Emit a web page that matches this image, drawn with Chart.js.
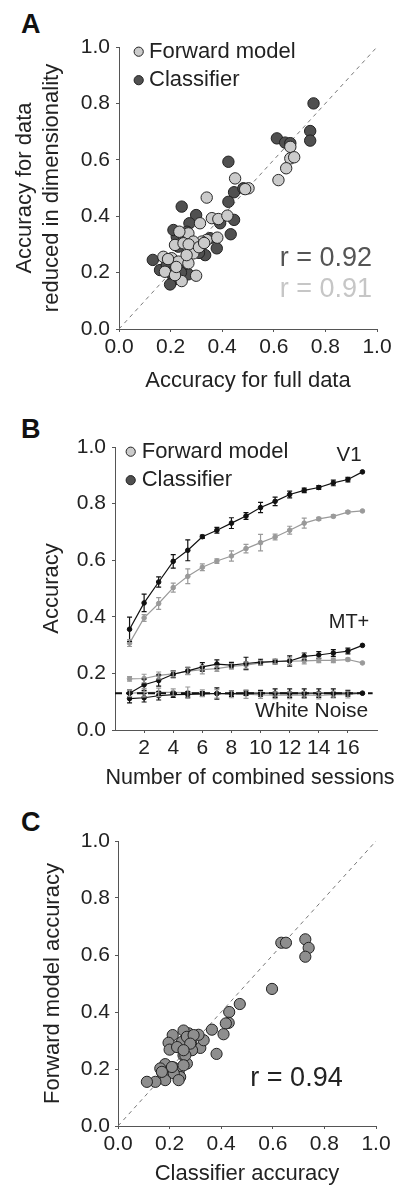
<!DOCTYPE html>
<html lang="en">
<head>
<meta charset="UTF-8">
<title>Forward model vs classifier accuracy</title>
<script src="https://cdn.jsdelivr.net/npm/chart.js"></script>
<style>
  body { margin: 0; background: #fff; }
  #wrap { position: relative; width: 399px; height: 1185px; overflow: hidden; }
  #wrap canvas { position: absolute; left: 0; }
  .letter { position: absolute; left: 21px; font: bold 27px "Liberation Sans", Arial, sans-serif; line-height: 1; color: #111; }
</style>
</head>
<body>
<div id="wrap">
  <div class="letter" style="top:11px">A</div>
  <div class="letter" style="top:416px">B</div>
  <div class="letter" style="top:809px">C</div>
  <canvas id="chartA" width="399" height="400" style="top:0"></canvas>
  <canvas id="chartB" width="399" height="395" style="top:400px"></canvas>
  <canvas id="chartC" width="399" height="392" style="top:795px"></canvas>
</div>

<script>
// ---- data ----
const accTicks = [0, 0.2, 0.4, 0.6, 0.8, 1.0];
const sessionTicks = [2, 4, 6, 8, 10, 12, 14, 16];
const identity = [0, 1];

// A: accuracy for full data (x) vs data reduced in dimensionality (y)
const fwdFull    = [0.664, 0.664, 0.679, 0.648, 0.618, 0.450, 0.502, 0.489, 0.340, 0.360, 0.385, 0.420, 0.314, 0.269, 0.234,
                    0.340, 0.381, 0.321, 0.288, 0.217, 0.250, 0.288, 0.172, 0.204, 0.230, 0.269, 0.178, 0.299, 0.243, 0.217,
                    0.270, 0.310, 0.222, 0.262, 0.190, 0.330];
const fwdReduced = [0.646, 0.605, 0.609, 0.570, 0.528, 0.534, 0.499, 0.496, 0.466, 0.393, 0.390, 0.402, 0.375, 0.339, 0.345,
                    0.316, 0.324, 0.310, 0.310, 0.298, 0.304, 0.268, 0.256, 0.251, 0.239, 0.233, 0.203, 0.189, 0.170, 0.191,
                    0.300, 0.290, 0.220, 0.262, 0.248, 0.305];
const clsFull    = [0.754, 0.741, 0.741, 0.612, 0.644, 0.664, 0.424, 0.446, 0.482, 0.424, 0.243, 0.299, 0.273, 0.392, 0.446, 0.433, 0.224,
                    0.379, 0.334, 0.230, 0.131, 0.159, 0.269, 0.211, 0.198, 0.263, 0.327, 0.276, 0.250, 0.185, 0.224, 0.353, 0.211,
                    0.250, 0.290, 0.310, 0.200, 0.240];
const clsReduced = [0.800, 0.702, 0.668, 0.676, 0.661, 0.659, 0.593, 0.485, 0.499, 0.451, 0.434, 0.404, 0.375, 0.375, 0.387, 0.336, 0.327,
                    0.286, 0.262, 0.292, 0.245, 0.209, 0.194, 0.174, 0.158, 0.345, 0.304, 0.268, 0.227, 0.227, 0.209, 0.322, 0.351,
                    0.330, 0.280, 0.270, 0.200, 0.200];

// B: accuracy vs number of combined sessions
const sessions = [1, 2, 3, 4, 5, 6, 7, 8, 9, 10, 11, 12, 13, 14, 15, 16, 17];
const v1Cls    = [0.356, 0.449, 0.523, 0.596, 0.635, 0.683, 0.706, 0.731, 0.756, 0.786, 0.808, 0.832, 0.847, 0.857, 0.873, 0.885, 0.912];
const v1ClsErr = [0.043, 0.031, 0.018, 0.024, 0.037, 0.006, 0.010, 0.019, 0.012, 0.018, 0.015, 0.012, 0.008, 0.007, 0.010, 0.008, 0];
const v1Fwd    = [0.307, 0.396, 0.447, 0.503, 0.543, 0.575, 0.597, 0.615, 0.641, 0.662, 0.682, 0.706, 0.731, 0.746, 0.755, 0.770, 0.774];
const v1FwdErr = [0.012, 0.012, 0.021, 0.016, 0.026, 0.012, 0.008, 0.018, 0.015, 0.029, 0.010, 0.014, 0.018, 0.005, 0.005, 0.005, 0];
const mtCls    = [0.130, 0.160, 0.175, 0.197, 0.209, 0.223, 0.233, 0.229, 0.235, 0.240, 0.242, 0.244, 0.260, 0.265, 0.272, 0.279, 0.299];
const mtClsErr = [0.012, 0.020, 0.020, 0.012, 0.012, 0.015, 0.015, 0.010, 0.022, 0.010, 0.008, 0.018, 0.012, 0.012, 0.012, 0.010, 0];
const mtFwd    = [0.181, 0.182, 0.193, 0.198, 0.208, 0.213, 0.217, 0.225, 0.229, 0.237, 0.242, 0.243, 0.244, 0.246, 0.246, 0.249, 0.237];
const mtFwdErr = [0.008, 0.015, 0.012, 0.010, 0.012, 0.015, 0.010, 0.010, 0.012, 0.008, 0.008, 0.012, 0.010, 0.008, 0.008, 0.005, 0];
const wnCls    = [0.111, 0.114, 0.121, 0.125, 0.126, 0.128, 0.129, 0.129, 0.130, 0.130, 0.130, 0.130, 0.130, 0.130, 0.130, 0.130, 0.130];
const wnClsErr = [0.015, 0.015, 0.015, 0.010, 0.010, 0.008, 0.020, 0.010, 0.008, 0.010, 0.015, 0.015, 0.015, 0.015, 0.015, 0.010, 0];
const wnFwd    = [0.130, 0.132, 0.133, 0.133, 0.132, 0.130, 0.128, 0.126, 0.127, 0.124, 0.123, 0.123, 0.124, 0.122, 0.125, 0.125, 0.130];
const wnFwdErr = [0.012, 0.015, 0.015, 0.012, 0.020, 0.012, 0.015, 0.012, 0.015, 0.012, 0.012, 0.012, 0.012, 0.012, 0.012, 0.012, 0];
const chance = 0.13;
const chanceSpan = [0, 17.7];

// C: classifier accuracy (x) vs forward model accuracy (y)
const clsAcc = [0.633, 0.651, 0.726, 0.739, 0.726, 0.597, 0.472, 0.431, 0.429, 0.418, 0.409, 0.364, 0.382, 0.319, 0.332, 0.312,
                0.274, 0.254, 0.283, 0.287, 0.212, 0.248, 0.196, 0.200, 0.229, 0.254, 0.267, 0.216, 0.235, 0.241, 0.183, 0.164,
                0.174, 0.183, 0.145, 0.112, 0.216, 0.267, 0.293, 0.280, 0.261, 0.254, 0.209, 0.235, 0.170, 0.254];
const fwdAcc = [0.643, 0.643, 0.655, 0.625, 0.594, 0.481, 0.428, 0.400, 0.362, 0.360, 0.322, 0.338, 0.253, 0.274, 0.301, 0.320,
                0.325, 0.335, 0.292, 0.266, 0.319, 0.295, 0.292, 0.268, 0.277, 0.248, 0.219, 0.205, 0.190, 0.172, 0.217, 0.202,
                0.181, 0.161, 0.155, 0.155, 0.185, 0.313, 0.319, 0.289, 0.248, 0.213, 0.207, 0.161, 0.190, 0.266];

// ---- helpers ----
const FONT = '"Liberation Sans", Arial, sans-serif';
Chart.defaults.font.family = FONT;
Chart.defaults.color = '#222';

const pts = (xs, ys) => xs.map((x, i) => ({ x: x, y: ys[i] }));

function yAxis(title, width, titlePad, tickPad) {
  return {
    type: 'linear', position: 'left', min: 0, max: 1,
    afterBuildTicks: s => { s.ticks = accTicks.map(v => ({ value: v })); },
    afterFit: s => { s.width = width; },
    border: { color: '#555', width: 1 },
    grid: { drawOnChartArea: false, tickLength: 3, color: '#555' },
    ticks: { font: { size: 21 }, padding: tickPad, color: '#222', callback: v => v.toFixed(1) },
    title: { display: true, text: title, color: '#222', font: { size: 22 }, padding: { top: titlePad, bottom: 0 } }
  };
}

function xAxis(title, height, min, max, tickVals, fmt, titlePad) {
  return {
    type: 'linear', position: 'bottom', min: min, max: max,
    afterBuildTicks: s => { s.ticks = tickVals.map(v => ({ value: v })); },
    afterFit: s => { s.height = height; },
    border: { color: '#555', width: 1 },
    grid: { drawOnChartArea: false, tickLength: 3, color: '#555' },
    ticks: { font: { size: 21 }, padding: 3, color: '#222', maxRotation: 0, autoSkip: false, callback: fmt },
    title: { display: !!title, text: title, color: '#222', font: { size: 22 }, padding: { top: 0, bottom: titlePad } }
  };
}

// text labels + small legend drawn on the canvas
function notes(texts, legend, extra) {
  return {
    id: 'notes',
    afterDraw(chart) {
      const { ctx, chartArea: ca, scales: { x, y } } = chart;
      ctx.save();
      ctx.textBaseline = 'middle';
      texts.forEach(t => {
        ctx.font = t.size + 'px ' + FONT;
        ctx.fillStyle = t.color;
        ctx.textAlign = t.align;
        ctx.fillText(t.text, x.getPixelForValue(t.x), y.getPixelForValue(t.y));
      });
      if (legend) {
        legend.items.forEach((it, i) => {
          const cy = ca.top + legend.dy + i * 28.5;
          ctx.beginPath();
          ctx.arc(ca.left + legend.dx, cy, 4.6, 0, Math.PI * 2);
          ctx.fillStyle = it.fill;
          ctx.fill();
          ctx.lineWidth = 1;
          ctx.strokeStyle = '#222';
          ctx.stroke();
          ctx.font = '22px ' + FONT;
          ctx.fillStyle = '#222';
          ctx.textAlign = 'left';
          ctx.fillText(it.label, ca.left + legend.tx, cy);
        });
      }
      if (extra) extra(chart);
      ctx.restore();
    }
  };
}

const errorBars = {
  id: 'errorBars',
  afterDatasetsDraw(chart) {
    const { ctx, scales: { x, y } } = chart;
    ctx.save();
    chart.data.datasets.forEach(ds => {
      if (!ds.errorBars) return;
      ctx.strokeStyle = ds.borderColor;
      ctx.lineWidth = 1.2;
      ds.data.forEach((p, i) => {
        const e = ds.errorBars[i];
        if (!e) return;
        const px = x.getPixelForValue(p.x);
        const top = y.getPixelForValue(p.y + e);
        const bot = y.getPixelForValue(p.y - e);
        ctx.beginPath();
        ctx.moveTo(px, top); ctx.lineTo(px, bot);
        ctx.moveTo(px - 2.5, top); ctx.lineTo(px + 2.5, top);
        ctx.moveTo(px - 2.5, bot); ctx.lineTo(px + 2.5, bot);
        ctx.stroke();
      });
    });
    ctx.restore();
  }
};

const common = {
  responsive: false,
  animation: false,
  events: [],
  plugins: { legend: { display: false }, tooltip: { enabled: false } }
};

const diagonal = {
  type: 'line', data: pts(identity, identity), showLine: true,
  borderColor: '#777', borderWidth: 1, borderDash: [4, 4], pointRadius: 0
};

const LIGHT = '#cbcbcb', DARK = '#505050';

// ---- A ----
new Chart(document.getElementById('chartA'), {
  type: 'scatter',
  data: {
    datasets: [
      { label: 'Forward model', data: pts(fwdFull, fwdReduced), backgroundColor: LIGHT, borderColor: '#262626', borderWidth: 1, pointRadius: 5.7 },
      { label: 'Classifier', data: pts(clsFull, clsReduced), backgroundColor: DARK, borderColor: '#222', borderWidth: 1, pointRadius: 5.7 },
      diagonal
    ]
  },
  options: Object.assign({}, common, {
    layout: { padding: { left: 0, right: 22, top: 47, bottom: 0 } },
    scales: {
      x: xAxis('Accuracy for full data', 71, 0, 1, accTicks, v => v.toFixed(1), 6),
      y: yAxis(['Accuracy for data', 'reduced in dimensionality'], 119, 12, 6)
    }
  }),
  plugins: [notes(
    [
      { text: 'r = 0.92', x: 0.981, y: 0.249, size: 27, color: '#555', align: 'right' },
      { text: 'r = 0.91', x: 0.981, y: 0.141, size: 27, color: '#c6c6c6', align: 'right' }
    ],
    { dx: 19.7, dy: 4.7, tx: 30, items: [{ label: 'Forward model', fill: LIGHT }, { label: 'Classifier', fill: DARK }] }
  )]
});

// ---- B ----
function series(values, errs, color) {
  return {
    data: pts(sessions, values), errorBars: errs,
    borderColor: color, backgroundColor: color, borderWidth: 1.2,
    pointRadius: 2.3, pointBorderWidth: 1, pointBackgroundColor: color, pointBorderColor: color, tension: 0
  };
}

new Chart(document.getElementById('chartB'), {
  type: 'line',
  data: {
    datasets: [
      { data: pts(chanceSpan, [chance, chance]), borderColor: '#111', borderWidth: 2, borderDash: [7, 4], pointRadius: 0 },
      series(v1Cls, v1ClsErr, '#111'),
      series(mtCls, mtClsErr, '#111'),
      series(wnCls, wnClsErr, '#111'),
      series(v1Fwd, v1FwdErr, '#9a9a9a'),
      series(mtFwd, mtFwdErr, '#9a9a9a'),
      series(wnFwd, wnFwdErr, '#9a9a9a')
    ]
  },
  options: Object.assign({}, common, {
    layout: { padding: { left: 0, right: 22, top: 47, bottom: 0 } },
    scales: {
      x: xAxis('', 65, 0, 18, sessionTicks, v => String(v), 0),
      y: yAxis('Accuracy', 115, 39, 6)
    }
  }),
  plugins: [errorBars, notes(
    [
      { text: 'V1', x: 16.94, y: 0.971, size: 20.5, color: '#222', align: 'right' },
      { text: 'MT+', x: 17.47, y: 0.379, size: 20, color: '#222', align: 'right' },
      { text: 'White Noise', x: 17.4, y: 0.065, size: 21, color: '#222', align: 'right' }
    ],
    { dx: 15.7, dy: 4.7, tx: 26.7, items: [{ label: 'Forward model', fill: LIGHT }, { label: 'Classifier', fill: DARK }] },
    chart => {
      const { ctx, chartArea: ca } = chart;
      ctx.font = '21.5px ' + FONT;
      ctx.fillStyle = '#222';
      ctx.textAlign = 'center';
      ctx.fillText('Number of combined sessions', (ca.left + ca.right) / 2 + 4, ca.bottom + 47.7);
    }
  )]
});

// ---- C ----
new Chart(document.getElementById('chartC'), {
  type: 'scatter',
  data: {
    datasets: [
      { data: pts(clsAcc, fwdAcc), backgroundColor: '#8e8e8e', borderColor: '#222', borderWidth: 1, pointRadius: 5.6 },
      diagonal
    ]
  },
  options: Object.assign({}, common, {
    layout: { padding: { left: 0, right: 23, top: 46, bottom: 0 } },
    scales: {
      x: xAxis('Classifier accuracy', 61, 0, 1, accTicks, v => v.toFixed(1), 0),
      y: yAxis('Forward model accuracy', 118, 40, 5)
    }
  }),
  plugins: [notes(
    [{ text: 'r = 0.94', x: 0.513, y: 0.168, size: 27, color: '#222', align: 'left' }],
    null
  )]
});
</script>
</body>
</html>
